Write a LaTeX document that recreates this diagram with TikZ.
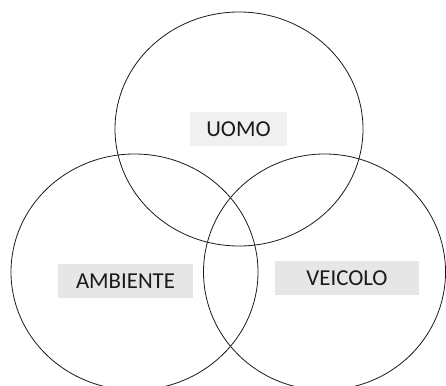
\documentclass[tikz,border=0pt]{standalone}
\usepackage{fontspec}
\setmainfont{Carlito}
\definecolor{boxlight}{HTML}{F0F0F0}
\definecolor{boxgray}{HTML}{E6E6E6}
\definecolor{ink}{HTML}{1A1A1A}
\tikzset{
  set/.style={draw=ink, line width=0.8pt},
  label box/.style={fill=#1, text=ink, inner sep=0pt, minimum height=34pt,
    font=\fontsize{22.8}{26}\selectfont},
}
\begin{document}
\begin{tikzpicture}[x=1pt,y=-1pt]
\useasboundingbox (0,0) rectangle (446,385);
\clip (0,0) rectangle (446,385);
% the three sets
\draw[set] (239,129) ellipse [x radius=124pt, y radius=117pt];
\draw[set] (134.5,272) ellipse [x radius=123.5pt, y radius=118pt];
\draw[set] (324.5,272) ellipse [x radius=121pt, y radius=118pt];
% labels
\node[label box=boxlight, minimum width=97pt] (uomo) at (238.5,129) {UOMO};
\node[label box=boxgray, minimum width=135pt] (ambiente) at (125.5,281) {AMBIENTE};
\node[label box=boxgray, minimum width=144pt] (veicolo) at (347,278) {VEICOLO};
\end{tikzpicture}
\end{document}
